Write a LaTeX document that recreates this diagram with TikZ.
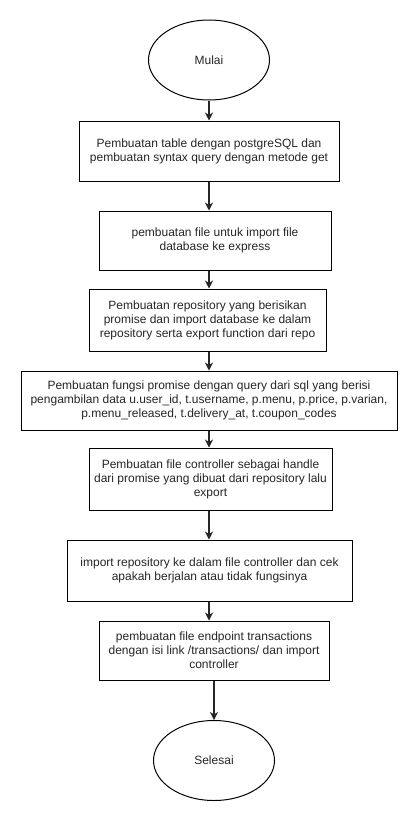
\documentclass[tikz,border=0pt]{standalone}
\usepackage{fontspec}
\setmainfont{Liberation Sans}
\usetikzlibrary{arrows.meta,shapes.geometric}
\begin{document}
\begin{tikzpicture}[x=1pt,y=-1pt,
  every node/.style={font=\fontsize{12}{14}\selectfont, text=black!85, align=center, inner sep=0pt},
  procbox/.style={draw=black, line width=1pt, rectangle, fill=white},
  term/.style={draw=black, line width=1pt, ellipse, fill=white},
  arr/.style={draw=black!85, line width=1.1pt, -{Stealth[length=8pt,width=8pt,inset=2.5pt]}}]
\useasboundingbox[fill=white] (0,0) rectangle (419,822);
\node[term, minimum width=121pt, minimum height=80pt] (m) at (209,60) {Mulai};
\node[procbox, minimum width=260pt, minimum height=60pt] (b1) at (209,151) {Pembuatan table dengan postgreSQL dan\\pembuatan syntax query dengan metode get};
\node[procbox, minimum width=232pt, minimum height=59pt] (b2) at (215,240.5) {pembuatan file untuk import file\\database ke express};
\node[procbox, minimum width=237pt, minimum height=62pt] (b3) at (207.5,320) {Pembuatan repository yang berisikan\\promise dan import database ke dalam\\repository serta export function dari repo};
\node[procbox, minimum width=376pt, minimum height=59pt] (b4) at (209,400.5) {Pembuatan fungsi promise dengan query dari sql yang berisi\\pengambilan data u.user\_id, t.username, p.menu, p.price, p.varian,\\p.menu\_released, t.delivery\_at, t.coupon\_codes};
\node[procbox, minimum width=243pt, minimum height=62pt] (b5) at (210.5,479) {Pembuatan file controller sebagai handle\\dari promise yang dibuat dari repository lalu\\export};
\node[procbox, minimum width=285pt, minimum height=61pt] (b6) at (209.5,570.5) {import repository ke dalam file controller dan cek\\apakah berjalan atau tidak fungsinya};
\node[procbox, minimum width=230pt, minimum height=59pt] (b7) at (214,650.5) {pembuatan file endpoint transactions\\dengan isi link /transactions/ dan import\\controller};
\node[term, minimum width=121pt, minimum height=80pt] (s) at (214,760.5) {Selesai};
\draw[arr] (m.south) -- (m.south |- b1.north);
\draw[arr] (b1.south) -- (b1.south |- b2.north);
\draw[arr] (b1.south |- b2.south) -- (b1.south |- b3.north);
\draw[arr] (b1.south |- b3.south) -- (b1.south |- b4.north);
\draw[arr] (b4.south) -- (b4.south |- b5.north);
\draw[arr] (b4.south |- b5.south) -- (b4.south |- b6.north);
\draw[arr] (b4.south |- b6.south) -- (b4.south |- b7.north);
\draw[arr] (b7.south) -- (s.north);
\end{tikzpicture}
\end{document}
